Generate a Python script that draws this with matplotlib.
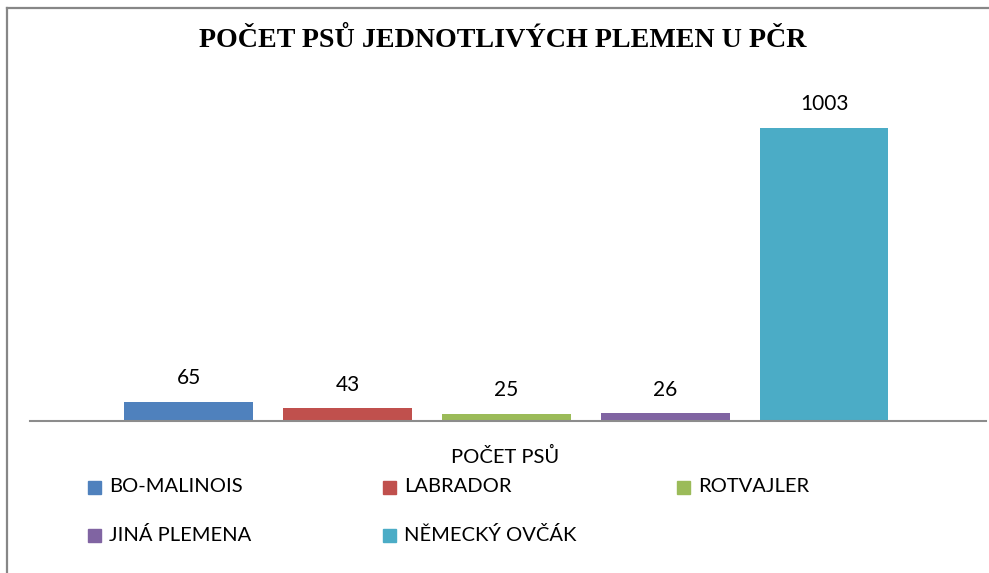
import matplotlib
matplotlib.use('agg')
import matplotlib.pyplot as plt
from matplotlib.patches import Rectangle
from matplotlib.lines import Line2D

breeds = ['BO-MALINOIS', 'LABRADOR', 'ROTVAJLER', 'JINÁ PLEMENA', 'NĚMECKÝ OVČÁK']
counts = [65, 43, 25, 26, 1003]
colors = ['#4F81BD', '#C0504D', '#9BBB59', '#8064A2', '#4BACC6']
title = 'POČET PSŮ JEDNOTLIVÝCH PLEMEN U PČR'
category = 'POČET PSŮ'

W, H = 989, 573
fig = plt.figure(figsize=(W / 100, H / 100), dpi=100)
fig.patch.set_facecolor('white')

# plot area in pixel coords: x 30..986, baseline at y=421, top at y=80
ax = fig.add_axes([30 / W, 1 - 421 / H, (986 - 30) / W, (421 - 80) / H])
x = list(range(len(counts)))
bars = ax.bar(x, counts, width=0.81, color=colors, zorder=2)
ax.set_xlim(-1.0, 5.02)
ax.set_ylim(0, 1003 * 341 / 293)
for s in ['top', 'right', 'left']:
    ax.spines[s].set_visible(False)
ax.spines['bottom'].set_color('#8c8c8c')
ax.spines['bottom'].set_linewidth(1.5)
ax.set_xticks([])
ax.set_yticks([])
ax.patch.set_alpha(0)

for b, v in zip(bars, counts):
    ax.annotate(str(v), (b.get_x() + b.get_width() / 2, v), xytext=(0, 10),
                textcoords='offset points', ha='center', va='bottom',
                fontsize=15, family='Lato', color='#000000')

# title
fig.text(503 / W, 1 - 40 / H, title, ha='center', va='center',
         fontsize=20.2, fontweight='bold', family='Liberation Serif')

# category label
fig.text(505 / W, 1 - 456 / H, category, ha='center', va='center',
         fontsize=14.5, family='Lato', color='#000000')

# legend, 3 columns x 2 rows
col_x = [88, 383, 677]
row_y = [487, 535]
for i, b in enumerate(bars):
    r, c = divmod(i, 3)
    mx, my = col_x[c], row_y[r]
    fig.patches.append(Rectangle((mx / W, 1 - (my + 6.5) / H), 13 / W, 13 / H,
                                 transform=fig.transFigure,
                                 color=b.get_facecolor(), figure=fig))
    fig.text((mx + 21) / W, 1 - my / H, breeds[i], ha='left', va='center',
             fontsize=14.5, family='Lato', color='#000000')

# chart border (left and top)
fig.add_artist(Line2D([7 / W, 7 / W], [0, 1 - 8 / H], transform=fig.transFigure,
                      color='#878787', lw=1.6))
fig.add_artist(Line2D([7 / W, 1], [1 - 8 / H, 1 - 8 / H], transform=fig.transFigure,
                      color='#878787', lw=1.6))

fig.savefig('out.png', dpi=100)
